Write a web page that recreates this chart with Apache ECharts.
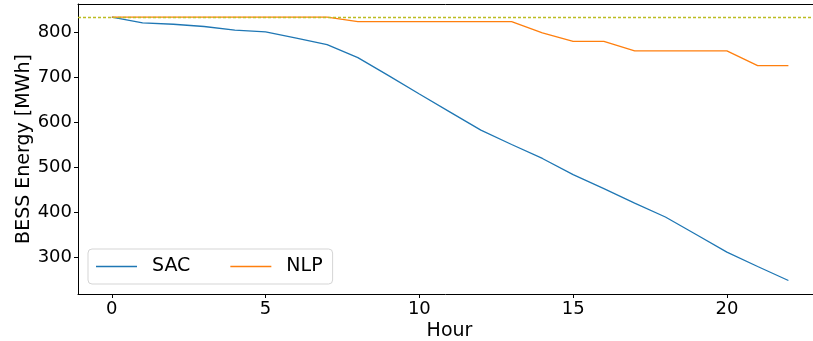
<!DOCTYPE html>
<html>
<head>
<meta charset="utf-8">
<script src="https://cdn.jsdelivr.net/npm/echarts@6/dist/echarts.min.js"></script>
<style>
html,body{margin:0;padding:0;background:#fff;}
#chart{width:813px;height:341px;}
</style>
</head>
<body>
<div id="chart"></div>
<script>
const hours = [0,1,2,3,4,5,6,7,8,9,10,11,12,13,14,15,16,17,18,19,20,21,22];
const sacEnergy = [834, 821, 818, 813, 805, 801, 787, 773, 744, 704, 663, 623, 583, 551, 520, 484, 453, 421, 390, 351, 312, 280, 249];
const nlpEnergy = [834, 834, 834, 834, 834, 834, 834, 834, 824, 824, 824, 824, 824, 824, 799, 780, 780, 759, 759, 759, 759, 726, 726];
const capacity = 834;
const xTicks = [0, 5, 10, 15, 20];
const yTicks = [300, 400, 500, 600, 700, 800];

const FONT = 'DejaVu Sans';
const chart = echarts.init(document.getElementById('chart'), null, {renderer: 'canvas'});

const pair = (xs, ys) => xs.map((x, i) => [x, ys[i]]);

chart.setOption({
  animation: false,
  backgroundColor: '#ffffff',
  grid: {left: 78, right: 0, top: 4, bottom: 47, containLabel: false, outerBoundsMode: 'none'},
  legend: {
    left: 88, top: 249,
    orient: 'horizontal',
    icon: 'rect',
    itemWidth: 41, itemHeight: 1.4,
    itemGap: 40,
    padding: [7, 10, 7, 8],
    borderColor: '#d5d5d5', borderWidth: 1, borderRadius: 4,
    backgroundColor: 'rgba(255,255,255,0.8)',
    textStyle: {fontFamily: FONT, fontSize: 19, color: '#000', padding: [0, 0, 0, 10], lineHeight: 21},
    data: ['SAC', 'NLP']
  },
  xAxis: [{
    type: 'value', min: -1.1, max: 22.8,
    name: 'Hour', nameLocation: 'middle', nameGap: 28, nameMoveOverlap: false,
    nameTextStyle: {fontFamily: FONT, fontSize: 19, color: '#000', padding: [0, 0, 0, 8]},
    axisLine: {show: true, onZero: false, lineStyle: {color: '#000', width: 1}},
    axisTick: {show: true, length: 4, lineStyle: {color: '#000'}, customValues: xTicks},
    axisLabel: {fontFamily: FONT, fontSize: 18, color: '#000', margin: 6, customValues: xTicks},
    splitLine: {show: false}
  }, {
    type: 'value', min: -1.1, max: 22.8, position: 'top',
    axisLine: {show: true, onZero: false, lineStyle: {color: '#000', width: 1}},
    axisTick: {show: false}, axisLabel: {show: false}, splitLine: {show: false}
  }],
  yAxis: {
    type: 'value', min: 219, max: 863,
    name: 'BESS Energy [MWh]', nameLocation: 'middle', nameGap: 44, nameMoveOverlap: false,
    nameTextStyle: {fontFamily: FONT, fontSize: 19, color: '#000'},
    axisLine: {show: true, onZero: false, lineStyle: {color: '#000', width: 1}},
    axisTick: {show: true, length: 4, lineStyle: {color: '#000'}, customValues: yTicks},
    axisLabel: {fontFamily: FONT, fontSize: 18, color: '#000', margin: 6, customValues: yTicks},
    splitLine: {show: false}
  },
  series: [{
    name: 'SAC', type: 'line', data: pair(hours, sacEnergy),
    showSymbol: false, symbol: 'none',
    lineStyle: {color: '#1f77b4', width: 1.3}, itemStyle: {color: '#1f77b4'},
    markLine: {
      silent: true, symbol: 'none', label: {show: false},
      lineStyle: {color: '#bcbd22', type: [3, 2], width: 1.3, opacity: 1},
      emphasis: {disabled: true},
      data: [{yAxis: capacity, lineStyle: {color: '#bcbd22', type: [3, 2], width: 1.3}}]
    }
  }, {
    name: 'NLP', type: 'line', data: pair(hours, nlpEnergy),
    showSymbol: false, symbol: 'none',
    lineStyle: {color: '#ff7f0e', width: 1.3}, itemStyle: {color: '#ff7f0e'}
  }]
});
</script>
</body>
</html>
